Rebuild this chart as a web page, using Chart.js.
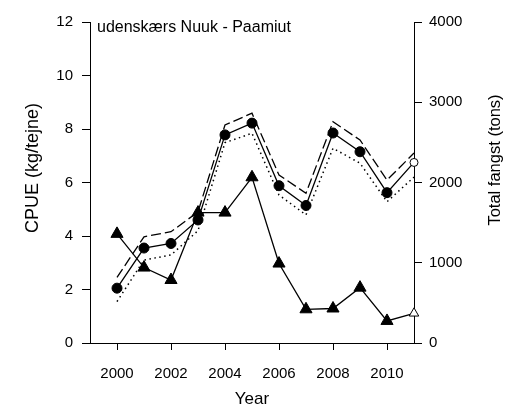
<!DOCTYPE html>
<html>
<head>
<meta charset="utf-8">
<script src="https://cdn.jsdelivr.net/npm/chart.js@4.4.0/dist/chart.umd.min.js"></script>
<style>
  html, body { margin: 0; padding: 0; background: #fff; }
  canvas { display: block; }
</style>
</head>
<body>
<canvas id="cpueChart" width="507" height="412"></canvas>
<script>
//.. data
const years = [2000, 2001, 2002, 2003, 2004, 2005, 2006, 2007, 2008, 2009, 2010, 2011];
const cpue = [2.05, 3.55, 3.72, 4.6, 7.78, 8.22, 5.88, 5.14, 7.85, 7.15, 5.62, 6.75];
const cpueUpper = [2.45, 3.97, 4.16, 4.9, 8.15, 8.59, 6.28, 5.6, 8.27, 7.59, 6.09, 7.1];
const cpueLower = [1.55, 3.1, 3.29, 4.2, 7.49, 7.84, 5.53, 4.79, 7.28, 6.72, 5.28, 6.2];
const totalCatch = [1360, 940, 785, 1625, 1625, 2065, 990, 420, 430, 690, 275, 370];
const xTicks = [2000, 2002, 2004, 2006, 2008, 2010];

const FONT = "'Liberation Sans', Arial, sans-serif";

function toPoints(values) {
    return years.map(function (y, i) { return {x: y, y: values[i]}; });
}

//.. last year is provisional -> open marker
function lastOpen(fill) {
    return years.map(function (y, i) { return i === years.length - 1 ? '#fff' : fill; });
}

//.. titles drawn as text on the canvas
const titlePlugin = {
    id: 'titles',
    afterDraw: function (chart) {
        const ctx = chart.ctx;
        ctx.save();
        ctx.fillStyle = '#000';
        ctx.textBaseline = 'alphabetic';
        ctx.textAlign = 'left';
        ctx.font = '16px ' + FONT;
        ctx.fillText('udenskærs Nuuk - Paamiut', 97, 32);

        ctx.textAlign = 'center';
        ctx.textBaseline = 'middle';
        ctx.font = '17px ' + FONT;
        ctx.fillText('Year', 252, 399);

        ctx.font = '18px ' + FONT;
        ctx.translate(33, 168);
        ctx.rotate(-Math.PI / 2);
        ctx.fillText('CPUE (kg/tejne)', 0, 0);
        ctx.restore();

        ctx.save();
        ctx.fillStyle = '#000';
        ctx.textAlign = 'center';
        ctx.textBaseline = 'middle';
        ctx.font = '16.5px ' + FONT;
        ctx.translate(495, 160);
        ctx.rotate(-Math.PI / 2);
        ctx.fillText('Total fangst (tons)', 0, 0);
        ctx.restore();
    }
};

const tickFont = {family: FONT, size: 15};

const ctx = document.getElementById('cpueChart').getContext('2d');
new Chart(ctx, {
    type: 'line',
    data: {
        datasets: [
            {
                label: 'CPUE upper',
                data: toPoints(cpueUpper),
                yAxisID: 'y',
                borderColor: '#000',
                borderWidth: 1.3,
                borderDash: [10, 4],
                pointRadius: 0,
                clip: false,
                fill: false
            },
            {
                label: 'CPUE lower',
                data: toPoints(cpueLower),
                yAxisID: 'y',
                borderColor: '#000',
                borderWidth: 1.5,
                borderDash: [1.5, 3.5],
                pointRadius: 0,
                clip: false,
                fill: false
            },
            {
                label: 'CPUE',
                data: toPoints(cpue),
                yAxisID: 'y',
                borderColor: '#000',
                borderWidth: 1.3,
                pointStyle: 'circle',
                pointRadius: years.map(function (y, i) { return i === years.length - 1 ? 4 : 5; }),
                pointBackgroundColor: lastOpen('#000'),
                pointBorderColor: '#000',
                pointBorderWidth: 1,
                clip: false,
                fill: false
            },
            {
                label: 'Total fangst',
                data: toPoints(totalCatch),
                yAxisID: 'y1',
                borderColor: '#000',
                borderWidth: 1.3,
                pointStyle: 'triangle',
                pointRadius: years.map(function (y, i) { return i === years.length - 1 ? 5.5 : 7; }),
                pointBackgroundColor: lastOpen('#000'),
                pointBorderColor: '#000',
                pointBorderWidth: 1,
                clip: false,
                fill: false
            }
        ]
    },
    options: {
        responsive: false,
        animation: false,
        layout: {padding: {top: 22, left: 0, right: 0, bottom: 0}},
        plugins: {
            legend: {display: false},
            tooltip: {enabled: false}
        },
        scales: {
            x: {
                type: 'linear',
                min: 1999,
                max: 2011,
                afterBuildTicks: function (scale) {
                    scale.ticks = xTicks.map(function (v) { return {value: v}; });
                },
                afterFit: function (scale) { scale.height = 69; },
                grid: {display: true, drawOnChartArea: false, drawTicks: true, tickLength: 7, color: '#000'},
                border: {display: true, color: '#000', width: 1},
                ticks: {
                    color: '#000', font: tickFont, padding: 15, maxRotation: 0,
                    callback: function (v) { return String(v); }
                }
            },
            y: {
                position: 'left',
                min: 0,
                max: 12,
                afterFit: function (scale) { scale.width = 90; },
                grid: {display: true, drawOnChartArea: false, drawTicks: true, tickLength: 8, color: '#000'},
                border: {display: true, color: '#000', width: 1},
                ticks: {stepSize: 2, color: '#000', font: tickFont, padding: 9}
            },
            y1: {
                position: 'right',
                min: 0,
                max: 4000,
                afterFit: function (scale) { scale.width = 93; },
                grid: {display: true, drawOnChartArea: false, drawTicks: true, tickLength: 8, color: '#000'},
                border: {display: true, color: '#000', width: 1},
                ticks: {
                    stepSize: 1000, color: '#000', font: tickFont, padding: 7,
                    callback: function (v) { return String(v); }
                }
            }
        }
    },
    plugins: [titlePlugin]
});
</script>
</body>
</html>
